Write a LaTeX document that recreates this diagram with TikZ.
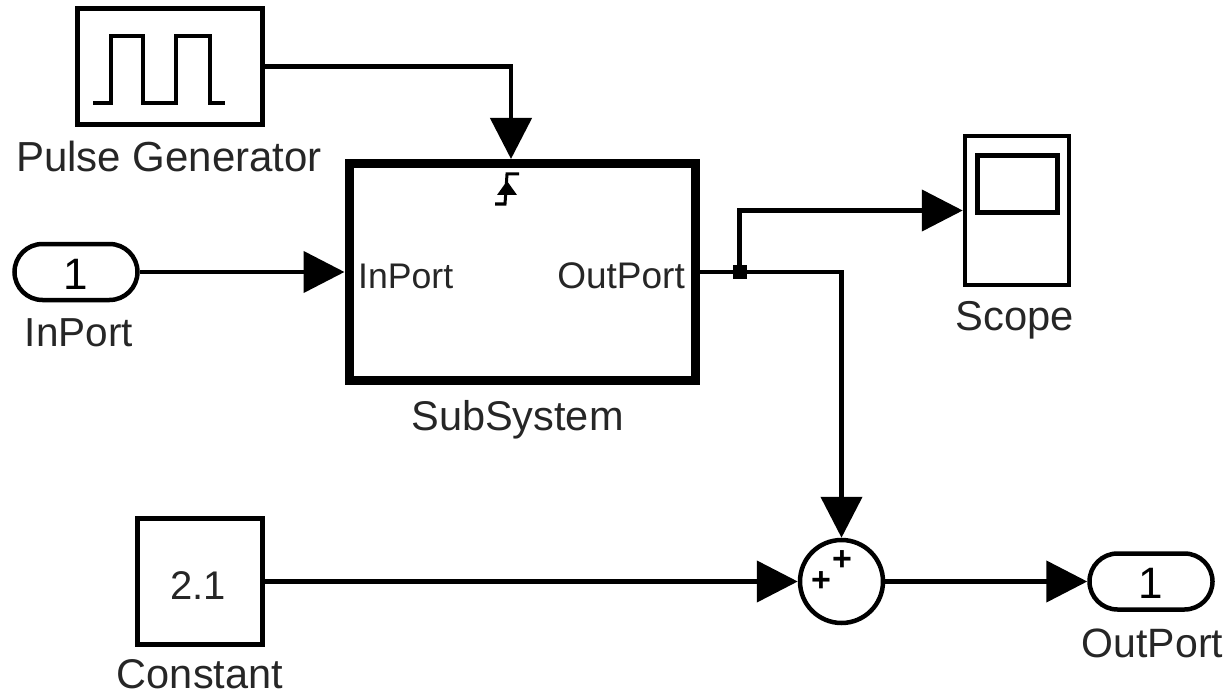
\documentclass[tikz,border=0pt]{standalone}
\usepackage{fontspec}
\setmainfont{Liberation Sans}
\usetikzlibrary{arrows.meta}
\tikzset{
  blockbox/.style={draw=black,line width=4.5pt,fill=white,inner sep=0pt},
  portpill/.style={draw=black,line width=4.5pt,rounded corners=28pt,minimum width=123pt,minimum height=56pt,inner sep=0pt,text height=34pt,font=\fontsize{44}{44}\selectfont},
  lbl/.style={font=\fontsize{#1}{#1}\selectfont,inner sep=0pt,text=black!85,anchor=base},
  wire/.style={line width=4.5pt,-{Triangle[length=41pt,width=41pt,inset=0pt]}},
  plainwire/.style={line width=4.5pt},
  symbolline/.style={line width=4.5pt,line join=miter},
  plussign/.style={font=\bfseries\fontsize{34}{34}\selectfont,inner sep=0pt}
}
\begin{document}
\begin{tikzpicture}[x=1pt,y=-1pt]
\useasboundingbox (0,0) rectangle (1228,695);
\node[blockbox,minimum width=185pt,minimum height=116pt] (pulse) at (170,66.5) {};
\draw[symbolline] (93,103) -- (111,103) -- (111,36) -- (143,36) -- (143,103) -- (176,103) -- (176,36) -- (210,36) -- (210,103) -- (225,103);
\node[lbl=42] (pulselbl) at (169,172) {Pulse Generator};
\node[draw=black,line width=9pt,fill=white,minimum width=346pt,minimum height=216pt,inner sep=0pt] (sub) at (522,272) {};
\node[lbl=41.5] (sublbl) at (517.5,430) {SubSystem};
\node[lbl=35.6,anchor=base west] (inlbl) at (358,288) {InPort};
\node[lbl=37,anchor=base east] (outlbl) at (685,288) {OutPort};
\draw[line width=3pt] (519,174) -- (507,174) -- (505,204) -- (495,204);
\fill[black] (497,195) -- (507,181) -- (517,195) -- cycle;
\coordinate (trig) at (511,159);
\node[portpill] (inp) at (76,272) {1};
\node[lbl=40.5] (inplbl) at (79,346) {InPort};
\node[blockbox,minimum width=104pt,minimum height=149pt] (scope) at (1017,210.5) {};
\node[draw=black,line width=5pt,minimum width=80pt,minimum height=56pt,inner sep=0pt] (screen) at (1017,184) {};
\node[lbl=41.7] (scopelbl) at (1014.5,330) {Scope};
\node[blockbox,minimum width=125pt,minimum height=126pt] (const) at (200,581.5) {};
\node[lbl=40] (constval) at (198,599) {2.1};
\node[lbl=41.5] (constlbl) at (200,688) {Constant};
\node[circle,draw=black,line width=4.5pt,fill=white,minimum size=83pt,inner sep=0pt] (sum) at (841.5,581.5) {};
\node[plussign] (plusa) at (842,561) {+};
\node[plussign] (plusb) at (821,582) {+};
\node[portpill] (outp) at (1151,581.5) {1};
\node[lbl=41] (outplbl) at (1152.5,657) {OutPort};
\node[fill=black,minimum size=14pt,inner sep=0pt] (dot) at (739.5,272) {};
\draw[wire] (pulse.east) -| (trig);
\draw[wire] (inp.east) -- (sub.west);
\draw[plainwire] (sub.east) -- (dot.center);
\draw[wire] (dot.center) |- (scope.west);
\draw[wire] (dot.center) -| (sum.north);
\draw[wire] (const.east) -- (sum.west);
\draw[wire] (sum.east) -- (outp.west);
\end{tikzpicture}
\end{document}
